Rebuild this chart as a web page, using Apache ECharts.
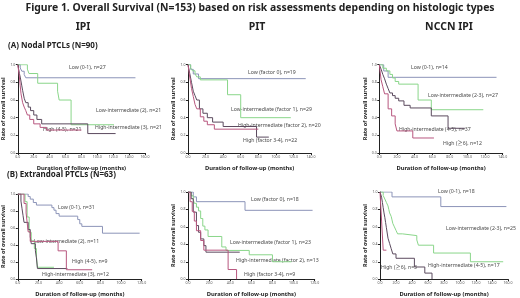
<!DOCTYPE html>
<html>
<head>
<meta charset="utf-8">
<script src="https://cdn.jsdelivr.net/npm/echarts@6/dist/echarts.min.js"></script>
<style>
html, body { margin: 0; padding: 0; background: #fff; }
#chart { width: 520px; height: 298px; }
</style>
</head>
<body>
<div id="chart"></div>
<script>
// KM curves: [month, survival rate]
// (A) Nodal PTCLs
const aIpiLow     = [[0,1],[3,0.963],[5,0.926],[8,0.889],[10,0.852],[148,0.852]];
const aIpiLowInt  = [[0,1],[12,0.95],[14,0.90],[25,0.79],[50,0.70],[52,0.60],[67,0.32],[121,0.32]];
const aIpiHighInt = [[0,1],[1,0.95],[2,0.90],[3,0.86],[5,0.76],[6,0.71],[8,0.62],[10,0.57],[13,0.52],[16,0.48],[20,0.43],[24,0.38],[30,0.33],[88,0.22],[123,0.22]];
const aIpiHigh    = [[0,1],[2,0.86],[3,0.76],[4,0.67],[6,0.57],[8,0.52],[10,0.48],[12,0.43],[15,0.38],[20,0.33],[28,0.29],[36,0.26],[80,0.26]];

const aPitLow     = [[0,1],[3,0.947],[6,0.895],[12,0.842],[134,0.842]];
const aPitLowInt  = [[0,1],[3,0.966],[5,0.931],[8,0.897],[10,0.862],[14,0.828],[45,0.66],[60,0.40],[117,0.40]];
const aPitHighInt = [[0,1],[2,0.9],[4,0.8],[6,0.7],[8,0.65],[10,0.6],[13,0.5],[17,0.45],[22,0.4],[28,0.35],[40,0.30],[78,0.18],[92,0.18]];
const aPitHigh    = [[0,1],[2,0.86],[4,0.73],[6,0.64],[8,0.55],[10,0.5],[14,0.41],[18,0.36],[22,0.32],[30,0.27],[80,0.27]];

const aNccnLow     = [[0,1],[5,0.929],[10,0.857],[133,0.857]];
const aNccnLowInt  = [[0,1],[4,0.96],[8,0.93],[12,0.89],[15,0.85],[18,0.81],[22,0.78],[44,0.60],[59,0.49],[118,0.49]];
const aNccnHighInt = [[0,1],[2,0.95],[4,0.89],[6,0.84],[8,0.78],[10,0.73],[12,0.68],[15,0.65],[18,0.62],[22,0.59],[28,0.54],[35,0.51],[59,0.42],[78,0.28],[97,0.28]];
const aNccnHigh    = [[0,1],[2,0.83],[4,0.75],[6,0.67],[10,0.5],[14,0.42],[18,0.33],[20,0.25],[38,0.17],[62,0.17]];

// (B) Extranodal PTCLs
const bIpiLow     = [[0,1],[10,0.97],[12,0.94],[15,0.90],[18,0.87],[33,0.84],[35,0.81],[37,0.77],[40,0.74],[58,0.70],[60,0.65],[62,0.62],[82,0.54],[118,0.54]];
const bIpiLowInt  = [[0,1],[7,0.91],[9,0.73],[11,0.55],[13,0.45],[16,0.36],[18,0.27],[19,0.14],[35,0.14]];
const bIpiHighInt = [[0,1],[3,0.917],[4,0.833],[5,0.75],[6,0.667],[10,0.583],[12,0.5],[13,0.417],[17,0.333],[18,0.25],[19,0.125],[48,0.125]];
const bIpiHigh    = [[0,1],[6,0.889],[8,0.778],[9,0.667],[10,0.556],[12,0.444],[39,0.333],[47,0.111],[72,0.111]];

const bPitLow     = [[0,1],[5,0.944],[8,0.889],[54,0.79],[118,0.79]];
const bPitLowInt  = [[0,1],[3,0.957],[5,0.913],[6,0.87],[8,0.826],[10,0.783],[12,0.696],[14,0.609],[16,0.565],[19,0.49],[32,0.37],[36,0.33],[58,0.28],[80,0.20],[98,0.20]];
const bPitHighInt = [[0,1],[3,0.923],[5,0.769],[8,0.615],[10,0.538],[12,0.462],[15,0.385],[17,0.31],[49,0.31]];
const bPitHigh    = [[0,1],[2,0.889],[4,0.778],[6,0.667],[8,0.556],[12,0.444],[15,0.333],[38,0.111],[46,0]];

const bNccnLow     = [[0,1],[15,0.944],[76,0.833],[158,0.833]];
const bNccnLowInt  = [[0,1],[4,0.96],[6,0.92],[8,0.88],[10,0.84],[11,0.80],[12,0.76],[14,0.72],[15,0.68],[16,0.64],[18,0.60],[20,0.56],[22,0.52],[28,0.50],[46,0.45],[48,0.39],[67,0.30],[113,0.20],[154,0.20]];
const bNccnHighInt = [[0,1],[2,0.94],[3,0.88],[4,0.82],[5,0.76],[6,0.71],[7,0.65],[8,0.59],[9,0.53],[10,0.47],[12,0.41],[14,0.35],[16,0.29],[20,0.24],[43,0.14],[56,0.07],[65,0]];
const bNccnHigh    = [[0,1],[2,0.667],[4,0.333],[8,0.333]];

// curve labels
const aIpiNames  = ['Low (0-1), n=27', 'Low-intermediate (2), n=21', 'High-intermediate (3), n=21', 'High (4-5), n=21'];
const aPitNames  = ['Low (factor 0), n=19', 'Low-intermediate (factor 1), n=29', 'High-intermediate (factor 2), n=20', 'High (factor 3-4), n=22'];
const aNccnNames = ['Low (0-1), n=14', 'Low-intermediate (2-3), n=27', 'High-intermediate (4-5), n=37', 'High (\u22656), n=12'];
const bIpiNames  = ['Low (0-1), n=31', 'Low-intermediate (2), n=11', 'High-intermediate (3), n=12', 'High (4-5), n=9'];
const bPitNames  = ['Low (factor 0), n=18', 'Low-intermediate (factor 1), n=23', 'High-intermediate (factor 2), n=13', 'High (factor 3-4), n=9'];
const bNccnNames = ['Low (0-1), n=18', 'Low-intermediate (2-3), n=25', 'High-intermediate (4-5), n=17', 'High (\u22656), n=3'];

const yTicks = [0, 0.2, 0.4, 0.6, 0.8, 1.0];
const colors = ['#8c94b8', '#8ad68a', '#5b4a5e', '#b8577f'];
const font = '"Noto Sans", "Noto Sans CJK KR", sans-serif';

const panels = [
    {grid: {left: 16.7, top: 64.7, width: 128.3, height: 88.3}, max: 160, curves: [aIpiLow, aIpiLowInt, aIpiHighInt, aIpiHigh], names: aIpiNames,
     pos: [[69, 68], [96, 111], [95, 128], [43, 130]]},
    {grid: {left: 188, top: 64.7, width: 123, height: 88.3}, max: 140, curves: [aPitLow, aPitLowInt, aPitHighInt, aPitHigh], names: aPitNames,
     pos: [[248, 73], [231, 110], [238, 126], [243, 141]]},
    {grid: {left: 379.3, top: 64.7, width: 123.4, height: 88.3}, max: 140, curves: [aNccnLow, aNccnLowInt, aNccnHighInt, aNccnHigh], names: aNccnNames,
     pos: [[411, 68], [428, 96], [399, 130], [443, 144]]},
    {grid: {left: 17.7, top: 194, width: 124, height: 86}, max: 120, curves: [bIpiLow, bIpiLowInt, bIpiHighInt, bIpiHigh], names: bIpiNames,
     pos: [[58, 208], [34, 242], [42, 275], [72, 262]]},
    {grid: {left: 188, top: 192, width: 126.7, height: 87.3}, max: 120, curves: [bPitLow, bPitLowInt, bPitHighInt, bPitHigh], names: bPitNames,
     pos: [[251, 200], [230, 243], [236, 261], [244, 275]]},
    {grid: {left: 380, top: 192, width: 128, height: 87.3}, max: 160, curves: [bNccnLow, bNccnLowInt, bNccnHighInt, bNccnHigh], names: bNccnNames,
     pos: [[438, 192], [446, 229], [428, 266], [381, 268]]}
];

const grids = [], xAxes = [], yAxes = [], series = [];
const graphics = [
    {type: 'text', x: 260, y: 8, style: {text: 'Figure 1. Overall Survival (N=153) based on risk assessments depending on histologic types',
        fontSize: 10.4, fontWeight: 'bold', fontFamily: font, fill: '#222', textAlign: 'center', textVerticalAlign: 'middle'}},
    {type: 'text', x: 83, y: 27, style: {text: 'IPI', fontSize: 10.5, fontWeight: 'bold', fontFamily: font, fill: '#222', textAlign: 'center', textVerticalAlign: 'middle'}},
    {type: 'text', x: 257, y: 27, style: {text: 'PIT', fontSize: 10.5, fontWeight: 'bold', fontFamily: font, fill: '#222', textAlign: 'center', textVerticalAlign: 'middle'}},
    {type: 'text', x: 449, y: 27, style: {text: 'NCCN IPI', fontSize: 10.5, fontWeight: 'bold', fontFamily: font, fill: '#222', textAlign: 'center', textVerticalAlign: 'middle'}},
    {type: 'text', x: 8, y: 46, style: {text: '(A) Nodal PTCLs (N=90)', fontSize: 8, fontWeight: 'bold', fontFamily: font, fill: '#222', textAlign: 'left', textVerticalAlign: 'middle'}},
    {type: 'text', x: 7, y: 175, style: {text: '(B) Extrandoal PTCLs (N=63)', fontSize: 8, fontWeight: 'bold', fontFamily: font, fill: '#222', textAlign: 'left', textVerticalAlign: 'middle'}}
];

panels.forEach((p, i) => {
    grids.push(p.grid);
    xAxes.push({
        type: 'value', gridIndex: i, min: 0, max: p.max, interval: 20,
        name: 'Duration of follow-up (months)', nameLocation: 'middle', nameGap: 12,
        nameTextStyle: {fontSize: 5.8, fontWeight: 'bold', fontFamily: font, color: '#222'},
        axisLine: {lineStyle: {color: '#222', width: 1}},
        axisTick: {length: 2, lineStyle: {color: '#222'}},
        axisLabel: {fontSize: 3.5, color: '#555', margin: 2.5, fontFamily: font, formatter: v => v.toFixed(1)},
        splitLine: {show: false}
    });
    yAxes.push({
        type: 'value', gridIndex: i, min: yTicks[0], max: yTicks[yTicks.length - 1], interval: 0.2,
        name: 'Rate of overall survival', nameLocation: 'middle', nameGap: 10, nameRotate: 90,
        nameTextStyle: {fontSize: 5.5, fontWeight: 'bold', fontFamily: font, color: '#222'},
        axisLine: {show: true, lineStyle: {color: '#222', width: 1}},
        axisTick: {show: true, length: 2, lineStyle: {color: '#222'}},
        axisLabel: {fontSize: 3.5, color: '#555', margin: 2.5, fontFamily: font, formatter: v => v.toFixed(1)},
        splitLine: {show: false}
    });
    p.curves.forEach((c, k) => {
        series.push({
            type: 'line', xAxisIndex: i, yAxisIndex: i, data: c, step: 'end',
            showSymbol: false, silent: true, animation: false,
            lineStyle: {color: colors[k], width: 1}
        });
        graphics.push({type: 'text', x: p.pos[k][0], y: p.pos[k][1], style: {
            text: p.names[k], fontSize: 5.2, fontFamily: font, fill: '#4a4a4a', textAlign: 'left', textVerticalAlign: 'middle'}});
    });
});

const myChart = echarts.init(document.getElementById('chart'));
myChart.setOption({
    backgroundColor: '#fff',
    animation: false,
    grid: grids,
    xAxis: xAxes,
    yAxis: yAxes,
    series: series,
    graphic: graphics
});
</script>
</body>
</html>
